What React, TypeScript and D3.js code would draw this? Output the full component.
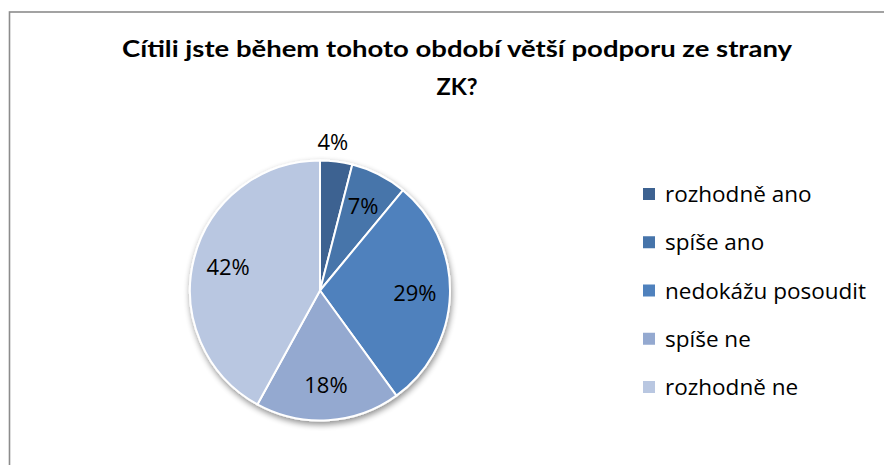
import React from "react";
import * as d3 from "d3";

const categories = ["rozhodně ano", "spíše ano", "nedokážu posoudit", "spíše ne", "rozhodně ne"];
const values = [4, 7, 29, 18, 42];
const colors = ["#3D6291", "#4674AA", "#4F81BD", "#94A9D0", "#B9C7E1"];
const titleLines = ["Cítili jste během tohoto období větší podporu ze strany", "ZK?"];

const W = 884;
const H = 465;
const cx = 320;
const cy = 290.5;
const R = 130;

export default function App() {
  const pie = d3.pie<number>().sort(null).value((d) => d)(values);
  const arc = d3.arc<d3.PieArcDatum<number>>().innerRadius(0).outerRadius(R);
  const labelArc = d3.arc<d3.PieArcDatum<number>>().innerRadius(R * 0.73).outerRadius(R * 0.73);
  const outArc = d3.arc<d3.PieArcDatum<number>>().innerRadius(R + 20).outerRadius(R + 20);
  const total = d3.sum(values);
  const legendY = d3.scalePoint<number>().domain(d3.range(categories.length)).range([194, 387]);
  const font = "'Open Sans', 'Noto Sans', sans-serif";
  const titleFont = "Lato, 'Open Sans', sans-serif";

  return (
    <svg width={W} height={H} style={{ position: "absolute", left: 0, top: 0, background: "#fff" }}>
      <defs>
        <filter id="sh" x="-20%" y="-20%" width="140%" height="140%">
          <feGaussianBlur in="SourceAlpha" stdDeviation="3" />
          <feOffset dx="1" dy="3" result="b" />
          <feComponentTransfer>
            <feFuncA type="linear" slope="0.45" />
          </feComponentTransfer>
          <feMerge>
            <feMergeNode />
            <feMergeNode in="SourceGraphic" />
          </feMerge>
        </filter>
      </defs>
      <rect x={9.5} y={12} width={W} height={H} fill="#fff" stroke="#8c8c8c" strokeWidth={1.6} />
      {titleLines.map((t, i) => (
        <text
          key={i}
          x={457}
          y={57 + i * 38}
          textAnchor="middle"
          fontFamily={titleFont}
          fontWeight="bold"
          fontSize={23.5}
          fill="#000"
          textLength={i === 0 ? 670 : undefined}
          lengthAdjust="spacingAndGlyphs"
        >
          {t}
        </text>
      ))}
      <g transform={`translate(${cx},${cy})`}>
        <g filter="url(#sh)">
          {pie.map((p, i) => (
            <path key={i} d={arc(p) || ""} fill={colors[i]} stroke="#fff" strokeWidth={2} strokeLinejoin="round" />
          ))}
        </g>
        {pie.map((p, i) => {
          const small = p.data / total < 0.05;
          const [lx, ly] = small ? outArc.centroid(p) : labelArc.centroid(p);
          return (
            <text
              key={i}
              x={small ? lx - 6 : lx}
              y={ly}
              dy="0.36em"
              textAnchor="middle"
              fontFamily={font}
              fontSize={22}
              fill="#000"
            >
              {`${p.data}%`}
            </text>
          );
        })}
      </g>
      {categories.map((c, i) => (
        <g key={c} transform={`translate(643,${legendY(i)})`}>
          <rect x={0} y={-6} width={12} height={12} fill={colors[i]} />
          <text x={22} y={0} dy="0.36em" fontFamily={font} fontSize={22.5} fill="#000">
            {c}
          </text>
        </g>
      ))}
    </svg>
  );
}
